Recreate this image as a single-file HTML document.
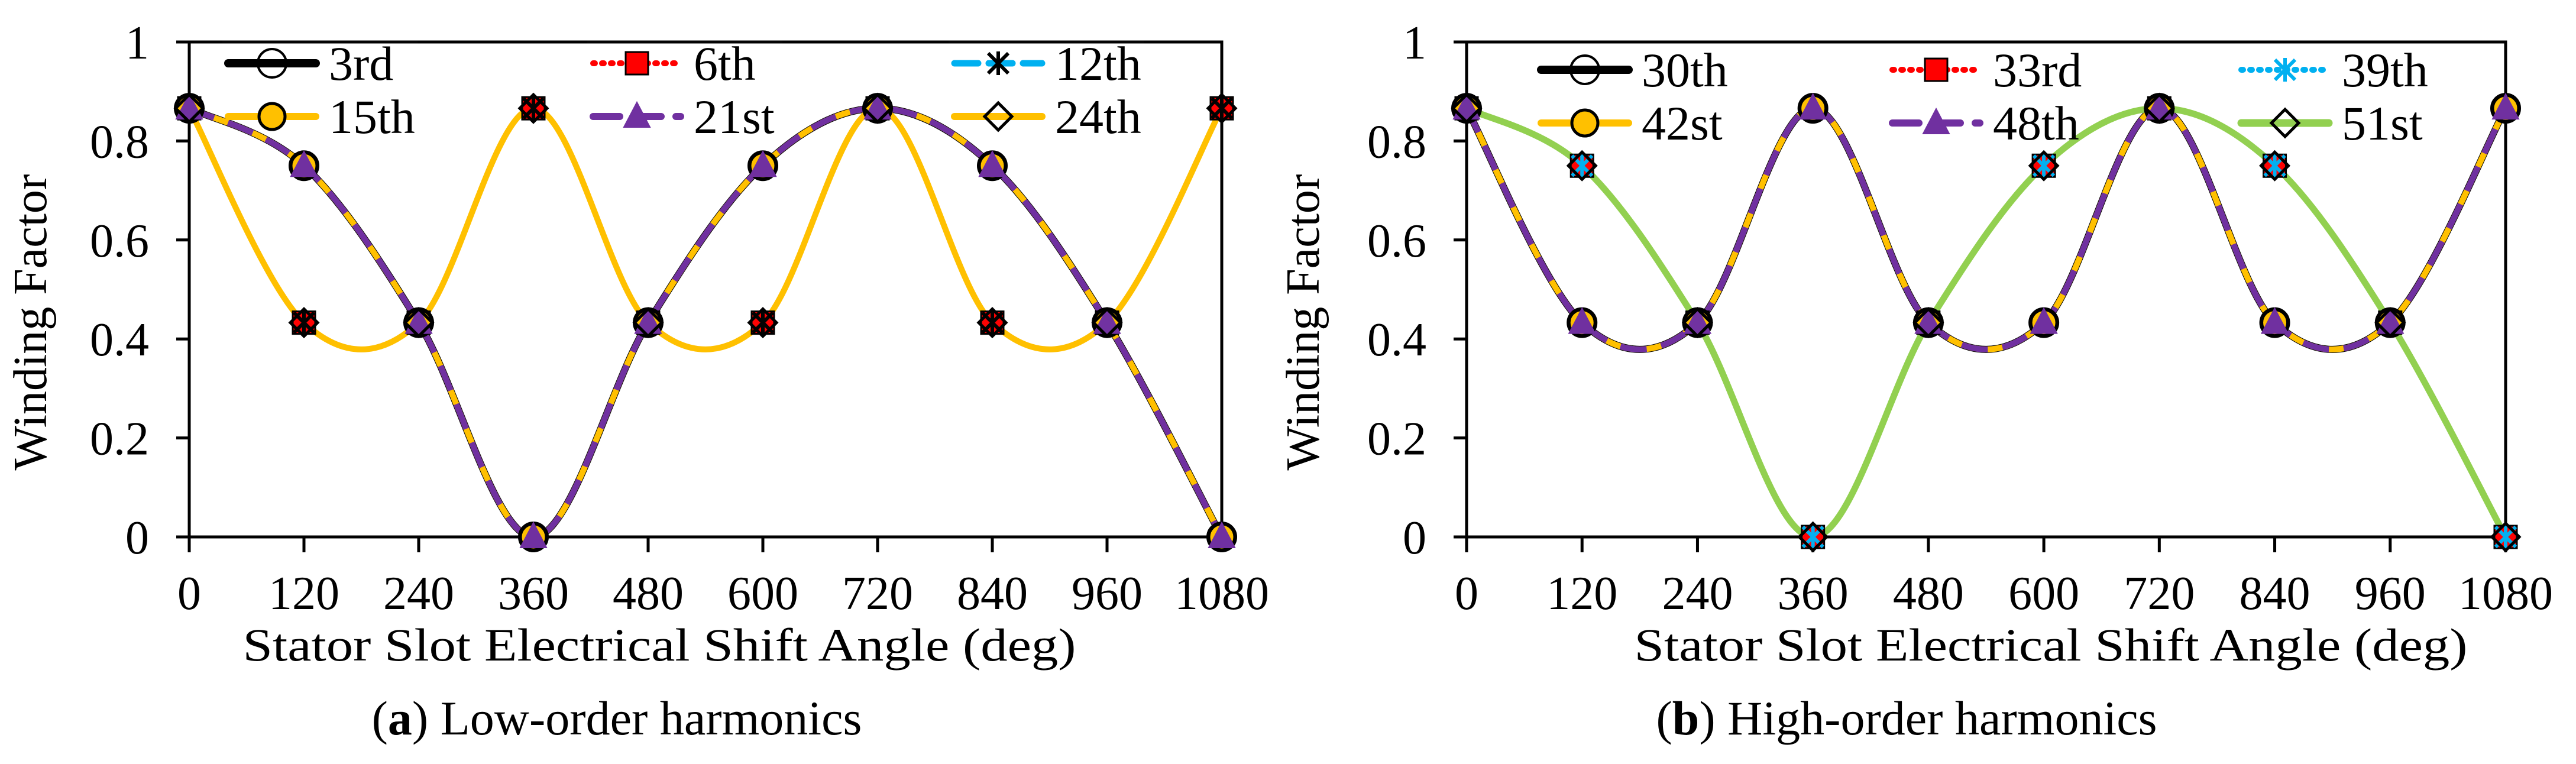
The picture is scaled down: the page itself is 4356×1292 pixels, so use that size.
<!DOCTYPE html>
<html><head><meta charset="utf-8"><style>
html,body{margin:0;padding:0;background:#fff;}
svg{display:block;font-family:"Liberation Serif",serif;}
</style></head><body>
<svg id="chart" width="4356" height="1292" viewBox="0 0 4356 1292" xmlns="http://www.w3.org/2000/svg"></svg>
<script>
// ---- data ----
const xCategories = [0,120,240,360,480,600,720,840,960,1080];
const yTicks = [0,0.2,0.4,0.6,0.8,1];
const yTickLabels = ["0","0.2","0.4","0.6","0.8","1"];
const curveA = [0.866,0.75,0.433,0,0.433,0.75,0.866,0.75,0.433,0];
const curveB = [0.866,0.433,0.433,0.866,0.433,0.433,0.866,0.433,0.433,0.866];
// panel a
const s3rd = curveA, s6th = curveB, s12th = curveB, s15th = curveA, s21st = curveA, s24th = curveB;
// panel b
const s30th = curveB, s33rd = curveA, s39th = curveA, s42nd = curveB, s48th = curveB, s51st = curveA;

const NS="http://www.w3.org/2000/svg";
const svg=document.getElementById('chart');
function mk(tag,attrs,parent){const e=document.createElementNS(NS,tag);for(const k in attrs)e.setAttribute(k,attrs[k]);(parent||svg).appendChild(e);return e;}

const seriesStyle = {
 black:{stroke:'#000',w:12,dash:null},
 red:{stroke:'#ff0000',w:8,dash:'3 12'},
 cyanDash:{stroke:'#00b0f0',w:9,dash:'40 18'},
 cyanDot:{stroke:'#00b0f0',w:8,dash:'3 12'},
 yellow:{stroke:'#ffc000',w:10,dash:null},
 purple:{stroke:'#7030a0',w:10,dash:'45 25'},
 green:{stroke:'#92d050',w:11,dash:null}
};

function drawMarker(g,type,x,y){
  let m;
  if(type==='circleOpen'){m=mk('circle',{cx:x,cy:y,r:24,fill:'none',stroke:'#000','stroke-width':4},g);}
  else if(type==='circleYellow'){m=mk('circle',{cx:x,cy:y,r:22,fill:'#ffc000',stroke:'#000','stroke-width':5},g);}
  else if(type==='square'){m=mk('rect',{x:x-19,y:y-19,width:38,height:38,fill:'#ff0000',stroke:'#000','stroke-width':3},g);}
  else if(type==='starBlack'||type==='starCyan'){const c=type==='starBlack'?'#000':'#00b0f0';
    m=mk('path',{d:`M${x-17} ${y-17}L${x+17} ${y+17}M${x+17} ${y-17}L${x-17} ${y+17}M${x} ${y-20}L${x} ${y+20}`,stroke:c,'stroke-width':6,fill:'none'},g);}
  else if(type==='triangle'){m=mk('path',{d:`M${x} ${y-24}L${x+22} ${y+18}L${x-22} ${y+18}Z`,fill:'#7030a0',stroke:'#7030a0','stroke-width':2},g);}
  else if(type==='diamond'){m=mk('path',{d:`M${x} ${y-23}L${x+23} ${y}L${x} ${y+23}L${x-23} ${y}Z`,fill:'#fff','fill-opacity':0.01,stroke:'#000','stroke-width':5},g);}
  
  
}

function smoothPath(pts){
  let d=`M${pts[0][0]} ${pts[0][1]}`;
  for(let i=0;i<pts.length-1;i++){
    const p0=pts[i-1]||pts[i],p1=pts[i],p2=pts[i+1],p3=pts[i+2]||pts[i+1];
    const c1=[p1[0]+(p2[0]-p0[0])/6,p1[1]+(p2[1]-p0[1])/6];
    const c2=[p2[0]-(p3[0]-p1[0])/6,p2[1]-(p3[1]-p1[1])/6];
    d+=`C${c1[0]} ${c1[1]} ${c2[0]} ${c2[1]} ${p2[0]} ${p2[1]}`;
  }
  return d;
}

function panel(cfg){
  const {x0,x1,y0,y1,name}=cfg;
  const g=mk('g',{});
  
  
  const X=v=>x0+(v-xCategories[0])/(xCategories[xCategories.length-1]-xCategories[0])*(x1-x0);
  const Y=v=>y0-(v-yTicks[0])/(yTicks[yTicks.length-1]-yTicks[0])*(y0-y1);
  const fr=mk('path',{d:`M${X(0)} ${Y(0)}L${x1} ${Y(0)}L${x1} ${Y(1)}L${x0} ${Y(1)}Z`,fill:'none',stroke:'#000','stroke-width':5},g);
  
  
  yTicks.forEach((t,i)=>{
    const tk=mk('line',{x1:x0-22,x2:x0,y1:Y(t),y2:Y(t),stroke:'#000','stroke-width':5},g);
    
    
    const tl=mk('text',{x:x0-68,y:Y(t)+28,'text-anchor':'end','font-size':80},g);
    tl.textContent=yTickLabels[i];
    
    
  });
  xCategories.forEach(c=>{
    const tk=mk('line',{x1:X(c),x2:X(c),y1:Y(0),y2:Y(0)+26,stroke:'#000','stroke-width':5},g);
    
    
    const tl=mk('text',{x:X(c),y:Y(0)+122,'text-anchor':'middle','font-size':80},g);
    tl.textContent=String(c);
    
    
  });
  const xt=mk('text',{x:cfg.xtX,y:1117,'text-anchor':'middle','font-size':78,textLength:1409,lengthAdjust:'spacingAndGlyphs'},g);
  xt.textContent='Stator Slot Electrical Shift Angle (deg)';
  
  
  const yt=mk('text',{x:0,y:0,'text-anchor':'middle','font-size':80,transform:`translate(${cfg.ytX} 545) rotate(-90)`},g);
  yt.textContent='Winding Factor';
  
  
  const cp=mk('text',{x:cfg.capX,y:1242,'text-anchor':'middle','font-size':82},g);
  cp.innerHTML=`(<tspan font-weight="bold">${cfg.capL}</tspan>) ${cfg.capT}`;
  
  
  cfg.series.forEach(s=>{
    const st=seriesStyle[s.style];
    const pts=xCategories.map((c,i)=>[X(c),Y(s.values[i])]);
    const p=mk('path',{d:smoothPath(pts),fill:'none',stroke:st.stroke,'stroke-width':st.w,'stroke-linecap':st.dash&&st.dash.startsWith('3')?'round':'butt','stroke-linejoin':'round'},g);
    if(st.dash)p.setAttribute('stroke-dasharray',st.dash);
    
    
  });
  cfg.series.forEach(s=>{
    const mg=mk('g',{},g);
    
    
    xCategories.forEach((c,i)=>drawMarker(mg,s.marker,X(c),Y(s.values[i])));
  });
  const lg=mk('g',{},g);
  
  
  cfg.series.forEach((s,i)=>{
    const col=i%3,row=Math.floor(i/3);
    const lx=cfg.legX[col],ly=cfg.legY[row];
    const st=seriesStyle[s.style];
    const e=mk('g',{},lg);
    
    
    mk('rect',{x:lx-10,y:ly-45,width:330,height:90,fill:'#fff','fill-opacity':0.01},e);
    const ln=mk('line',{x1:lx,x2:lx+148,y1:ly,y2:ly,stroke:st.stroke,'stroke-width':st.w+2,'stroke-linecap':'round'},e);
    if(st.dash)ln.setAttribute('stroke-dasharray',st.dash);
    drawMarker(e,s.marker,lx+74,ly);
    const t=mk('text',{x:lx+170,y:ly+28,'font-size':82},e);
    t.textContent=s.label;
  });
}

panel({name:'panel-a-low-order',x0:320,x1:2066,y0:908,y1:71,xtX:1115,ytX:78,capX:1043,capL:'a',capT:'Low-order harmonics',
  legX:[386,1003,1614],legY:[107,197],
  series:[
   {label:'3rd',values:s3rd,style:'black',marker:'circleOpen'},
   {label:'6th',values:s6th,style:'red',marker:'square'},
   {label:'12th',values:s12th,style:'cyanDash',marker:'starBlack'},
   {label:'15th',values:s15th,style:'yellow',marker:'circleYellow'},
   {label:'21st',values:s21st,style:'purple',marker:'triangle'},
   {label:'24th',values:s24th,style:'yellow',marker:'diamond'}
  ]});
panel({name:'panel-b-high-order',x0:2480,x1:4237,y0:908,y1:71,xtX:3468,ytX:2230,capX:3224,capL:'b',capT:'High-order harmonics',
  legX:[2606,3200,3790],legY:[118,208],
  series:[
   {label:'30th',values:s30th,style:'black',marker:'circleOpen'},
   {label:'33rd',values:s33rd,style:'red',marker:'square'},
   {label:'39th',values:s39th,style:'cyanDot',marker:'starCyan'},
   {label:'42st',values:s42nd,style:'yellow',marker:'circleYellow'},
   {label:'48th',values:s48th,style:'purple',marker:'triangle'},
   {label:'51st',values:s51st,style:'green',marker:'diamond'}
  ]});
</script>
</body></html>
